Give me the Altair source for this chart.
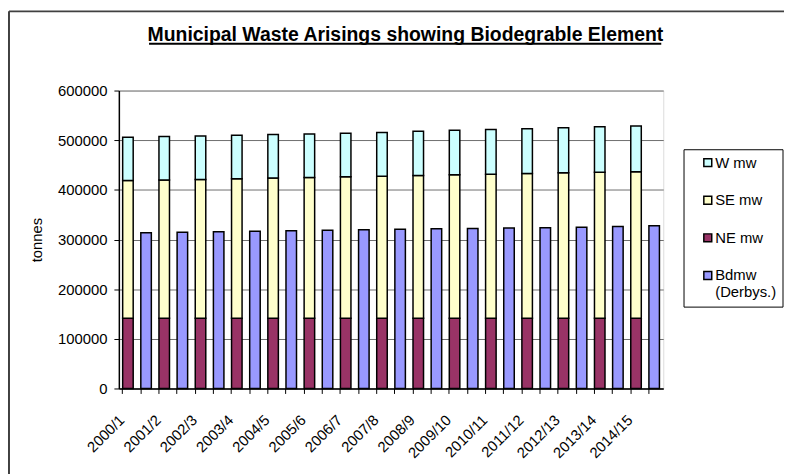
import altair as alt
import pandas as pd

years = ["2000/1", "2001/2", "2002/3", "2003/4", "2004/5", "2005/6", "2006/7",
         "2007/8", "2008/9", "2009/10", "2010/11", "2011/12", "2012/13",
         "2013/14", "2014/15"]
ne_mw = [141500, 141500, 141500, 141500, 141500, 141500, 141500, 141500,
         141500, 141500, 141500, 141500, 141500, 141500, 141500]
se_mw = [277500, 278500, 279500, 281000, 282500, 283500, 285000, 286000,
         287500, 289000, 290000, 291500, 293000, 294000, 295000]
w_mw = [87000, 87500, 87500, 87500, 87500, 87500, 87500, 88000,
        89000, 89500, 90000, 90000, 90500, 91500, 92000]
bdmw = [313500, 314500, 315500, 316500, 317500, 318500, 319500, 320500,
        321500, 322000, 323000, 323500, 324500, 326000, 327500]

series_names = ["W mw", "SE mw", "NE mw", "Bdmw (Derbys.)"]
series_colors = ["#CCFFFF", "#FFFFCC", "#993366", "#9999FF"]
y_ticks = [0, 100000, 200000, 300000, 400000, 500000, 600000]
title_text = "Municipal Waste Arisings showing Biodegrable Element"

rows = []
slot_order = []
for i, yr in enumerate(years):
    a = yr
    b = yr + "|b"
    slot_order += [a, b]
    ne, se, w = ne_mw[i], se_mw[i], w_mw[i]
    rows.append({"slot": a, "series": "NE mw", "y0": 0, "y1": ne})
    rows.append({"slot": a, "series": "SE mw", "y0": ne, "y1": ne + se})
    rows.append({"slot": a, "series": "W mw", "y0": ne + se, "y1": ne + se + w})
    rows.append({"slot": b, "series": "Bdmw (Derbys.)", "y0": 0, "y1": bdmw[i]})
df = pd.DataFrame(rows)

FONT = "Liberation Sans"

bars = alt.Chart(df).mark_bar(stroke="black", strokeWidth=1.5).encode(
    x=alt.X("slot:N", sort=slot_order,
            scale=alt.Scale(domain=slot_order, paddingInner=0.42, paddingOuter=0.21),
            axis=alt.Axis(title=None,
                          labelExpr="indexof(datum.label, '|') >= 0 ? '' : datum.label",
                          bandPosition=0, labelOffset=-11, labelAngle=-45,
                          labelAlign="right", labelBaseline="top", labelPadding=19,
                          labelFontSize=15, labelFont=FONT, labelColor="black",
                          labelOverlap=False, tickSize=5, tickColor="black",
                          domainColor="black", domainWidth=1.5, grid=False)),
    y=alt.Y("y1:Q", scale=alt.Scale(domain=[0, 600000], nice=False),
            axis=alt.Axis(values=y_ticks, format="d", title="tonnes",
                          titleFontSize=15, titleFont=FONT, titleFontWeight="normal",
                          titleColor="black", titlePadding=13,
                          labelFontSize=15, labelFont=FONT, labelColor="black",
                          labelPadding=7, tickSize=5, tickColor="black",
                          domainColor="black", domainWidth=1.5,
                          grid=True, gridColor="#6e6e6e", gridWidth=1)),
    y2="y0:Q",
    color=alt.Color("series:N",
                    scale=alt.Scale(domain=series_names, range=series_colors),
                    legend=alt.Legend(title=None, orient="none", legendX=570.5, legendY=59.3,
                                      strokeColor="black", padding=6,
                                      symbolType="square", symbolSize=64,
                                      symbolStrokeColor="black", symbolStrokeWidth=1.5,
                                      symbolOffset=11, labelOffset=0,
                                      labelFontSize=15, labelFont=FONT, labelColor="black",
                                      rowPadding=22,
                                      labelExpr="datum.label == 'Bdmw (Derbys.)' ? ['Bdmw', '(Derbys.)                    '] : datum.label")),
)

one = pd.DataFrame({"k": [0]})
frame_top = alt.Chart(one).mark_rule(color="#404040", strokeWidth=2).encode(
    x=alt.value(-111), x2=alt.value(700), y=alt.value(-80))
frame_left = alt.Chart(one).mark_rule(color="#404040", strokeWidth=2).encode(
    x=alt.value(-111), y=alt.value(-80), y2=alt.value(420))
title_mark = alt.Chart(one).mark_text(
    align="center", baseline="alphabetic", fontSize=19.6, font=FONT,
    fontWeight="bold", color="black").encode(
    text=alt.value(title_text), x=alt.value(289.5), y=alt.value(-50))
underline = alt.Chart(one).mark_rule(color="black", strokeWidth=2).encode(
    x=alt.value(30.5), x2=alt.value(548), y=alt.value(-47.3))

chart = alt.layer(bars, frame_top, frame_left, title_mark, underline).properties(
    width=550, height=301,
    autosize=alt.AutoSizeParams(type="none"),
    padding={"left": 112, "top": 81, "right": 122, "bottom": 84},
).configure_view(stroke="#a0a0a0", strokeWidth=1.5).configure(font=FONT)

chart.save("out.html", embed_options={"renderer": "svg", "actions": False})
